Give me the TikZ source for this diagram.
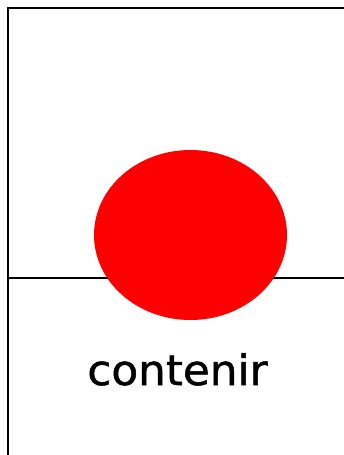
\documentclass[tikz,border=0pt]{standalone}
\usepackage{fontspec}
\setmainfont{DejaVu Sans}[FakeStretch=1.04]
\newfontfamily\wordfont{DejaVu Sans}[FakeStretch=1.04, FakeBold=1.2]
\usepackage{tikz}
\usetikzlibrary{shapes.geometric, positioning}

\begin{document}
\begin{tikzpicture}[
  x=1pt, y=-1pt,
  frameline/.style={draw, line width=2pt},
  blob/.style={ellipse, fill=red, draw=none, minimum width=193pt, minimum height=170pt, inner sep=0pt},
  word/.style={font=\wordfont\fontsize{42}{46}\selectfont, inner sep=0pt, anchor=base}
]
\useasboundingbox (0,0) rectangle (344,455);

% Frame
\coordinate (tl) at (8,8);
\coordinate (tr) at (344,8);
\coordinate (bl) at (8,455);
\coordinate (ml) at (8,277.5);
\coordinate (mr) at (344,277.5);
\draw[frameline] (tr) -- (tl) -- (bl);
\draw[frameline] (ml) -- (mr);

% Red disc
\node[blob] (disc) at (190.5,235) {};

% Label
\node[word] (label) at (177.5,385) {contenir};

\end{tikzpicture}
\end{document}
